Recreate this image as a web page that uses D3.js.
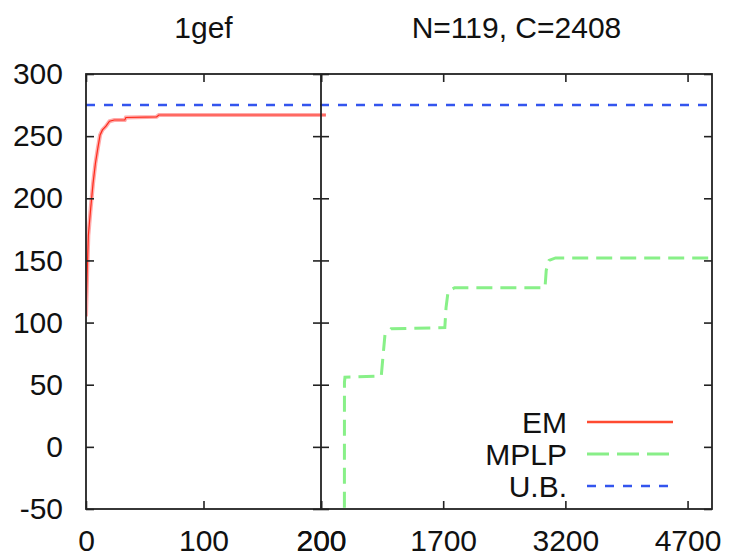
<!DOCTYPE html>
<html>
<head>
<meta charset="utf-8">
<script src="https://cdn.jsdelivr.net/npm/d3@7"></script>
<style>
  body { margin: 0; background: #fff; }
  text { font-family: "Liberation Sans", Arial, sans-serif; fill: #111; }
</style>
</head>
<body>
<div id="chart"></div>
<script>
// data
const titles = ['1gef', 'N=119, C=2408'];
const yTicks = [-50, 0, 50, 100, 150, 200, 250, 300];
const leftXTicks = [0, 100, 200];
const rightXTicks = [200, 1700, 3200, 4700];
const upperBound = 275;

const emSeries = [
  [0, 105], [1, 140], [2, 170], [4, 192], [6, 212], [8, 228], [10, 240],
  [12, 251], [14, 255], [17, 258], [20, 262], [24, 263], [33, 263],
  [34, 265], [60, 265.5], [62, 267], [260, 267],
];
const mplpSeries = [
  [486, -300], [488, 52], [494, 56], [940, 57], [960, 72], [985, 90],
  [1060, 95], [1720, 96], [1735, 112], [1760, 125], [1840, 128],
  [2950, 128], [2965, 142], [3000, 150], [3080, 152], [5000, 152],
];
const legendItems = [
  { name: 'EM', color: '#ff4a30', dash: null, width: 2.5 },
  { name: 'MPLP', color: '#88ee88', dash: '22,8', width: 3 },
  { name: 'U.B.', color: '#3355ee', dash: '9,9', width: 2.5 },
];

const width = 732;
const height = 560;

const svg = d3.select('#chart').append('svg')
  .attr('width', width)
  .attr('height', height);

// one polylinear scale covers both panels (0-200 then 200-5000)
const x = d3.scaleLinear().domain([0, 200, 5000]).range([86, 321, 712]);
const y = d3.scaleLinear().domain([-50, 300]).range([509, 74]);
const fmt = d => String(d); // plain hyphen minus, no thousands separator

svg.append('clipPath').attr('id', 'plotclip')
  .append('rect')
  .attr('x', x(0))
  .attr('y', y(300))
  .attr('width', x(5000) - x(0))
  .attr('height', y(-50) - y(300));

const plot = svg.append('g').attr('clip-path', 'url(#plotclip)');

plot.append('line')
  .attr('x1', x(0)).attr('x2', x(5000))
  .attr('y1', y(upperBound)).attr('y2', y(upperBound))
  .attr('stroke', '#3355ee')
  .attr('stroke-width', 2.5)
  .attr('stroke-dasharray', '9,9');

const line = d3.line().x(d => x(d[0])).y(d => y(d[1]));

plot.append('path')
  .datum(mplpSeries)
  .attr('d', line)
  .attr('fill', 'none')
  .attr('stroke', '#88f088')
  .attr('stroke-width', 3)
  .attr('stroke-dasharray', '16,8');

// EM: pink halo with a thin red core
plot.append('path')
  .datum(emSeries)
  .attr('d', line)
  .attr('fill', 'none')
  .attr('stroke', '#ffaaaa')
  .attr('stroke-width', 4);
plot.append('path')
  .datum(emSeries)
  .attr('d', line)
  .attr('fill', 'none')
  .attr('stroke', '#ff2a1a')
  .attr('stroke-width', 1.2);

// axes
function styleAxis(g) {
  g.select('.domain').remove();
  g.selectAll('.tick line').attr('stroke', '#222').attr('stroke-width', 1.6);
  g.selectAll('.tick text').style('font-size', '30px').attr('fill', '#111');
}

svg.append('g')
  .attr('transform', `translate(${x(0)},0)`)
  .call(d3.axisLeft(y).tickValues(yTicks).tickSize(-8).tickPadding(23).tickFormat(fmt))
  .call(styleAxis);

svg.append('g')
  .attr('transform', `translate(${x(200)},0)`)
  .call(d3.axisLeft(y).tickValues(yTicks).tickSize(8).tickFormat(''))
  .call(styleAxis);
svg.append('g')
  .attr('transform', `translate(${x(200)},0)`)
  .call(d3.axisRight(y).tickValues(yTicks).tickSize(8).tickFormat(''))
  .call(styleAxis);
svg.append('g')
  .attr('transform', `translate(${x(5000)},0)`)
  .call(d3.axisRight(y).tickValues(yTicks).tickSize(-8).tickFormat(''))
  .call(styleAxis);

const xLeft = d3.scaleLinear().domain([0, 200]).range([x(0), x(200)]);
const xRight = d3.scaleLinear().domain([200, 5000]).range([x(200), x(5000)]);

svg.append('g')
  .attr('transform', `translate(0,${y(-50)})`)
  .call(d3.axisBottom(xLeft).tickValues(leftXTicks).tickSize(-8).tickPadding(21).tickFormat(fmt))
  .call(styleAxis);
svg.append('g')
  .attr('transform', `translate(0,${y(-50)})`)
  .call(d3.axisBottom(xRight).tickValues(rightXTicks).tickSize(-8).tickPadding(21).tickFormat(fmt))
  .call(styleAxis);
svg.append('g')
  .attr('transform', `translate(0,${y(300)})`)
  .call(d3.axisTop(xLeft).tickValues(leftXTicks).tickSize(-8).tickFormat(''))
  .call(styleAxis);
svg.append('g')
  .attr('transform', `translate(0,${y(300)})`)
  .call(d3.axisTop(xRight).tickValues(rightXTicks).tickSize(-8).tickFormat(''))
  .call(styleAxis);

// frame and panel divider
svg.append('rect')
  .attr('x', x(0))
  .attr('y', y(300))
  .attr('width', x(5000) - x(0))
  .attr('height', y(-50) - y(300))
  .attr('fill', 'none')
  .attr('stroke', '#222')
  .attr('stroke-width', 1.8);
svg.append('line')
  .attr('x1', x(200)).attr('x2', x(200))
  .attr('y1', y(300)).attr('y2', y(-50))
  .attr('stroke', '#222')
  .attr('stroke-width', 1.8);

// panel titles
svg.append('text')
  .attr('x', (x(0) + x(200)) / 2)
  .attr('y', 38)
  .attr('text-anchor', 'middle')
  .style('font-size', '30px')
  .text(titles[0]);
svg.append('text')
  .attr('x', (x(200) + x(5000)) / 2)
  .attr('y', 38)
  .attr('text-anchor', 'middle')
  .style('font-size', '30px')
  .text(titles[1]);

// legend
const legend = svg.append('g').attr('transform', 'translate(567,433)');
legendItems.forEach((item, i) => {
  const row = legend.append('g').attr('transform', `translate(0,${i * 32})`);
  row.append('text')
    .attr('text-anchor', 'end')
    .style('font-size', '30px')
    .text(item.name);
  row.append('line')
    .attr('x1', 20).attr('x2', 106)
    .attr('y1', -11).attr('y2', -11)
    .attr('stroke', item.color)
    .attr('stroke-width', item.width)
    .attr('stroke-dasharray', item.dash);
});
</script>
</body>
</html>
